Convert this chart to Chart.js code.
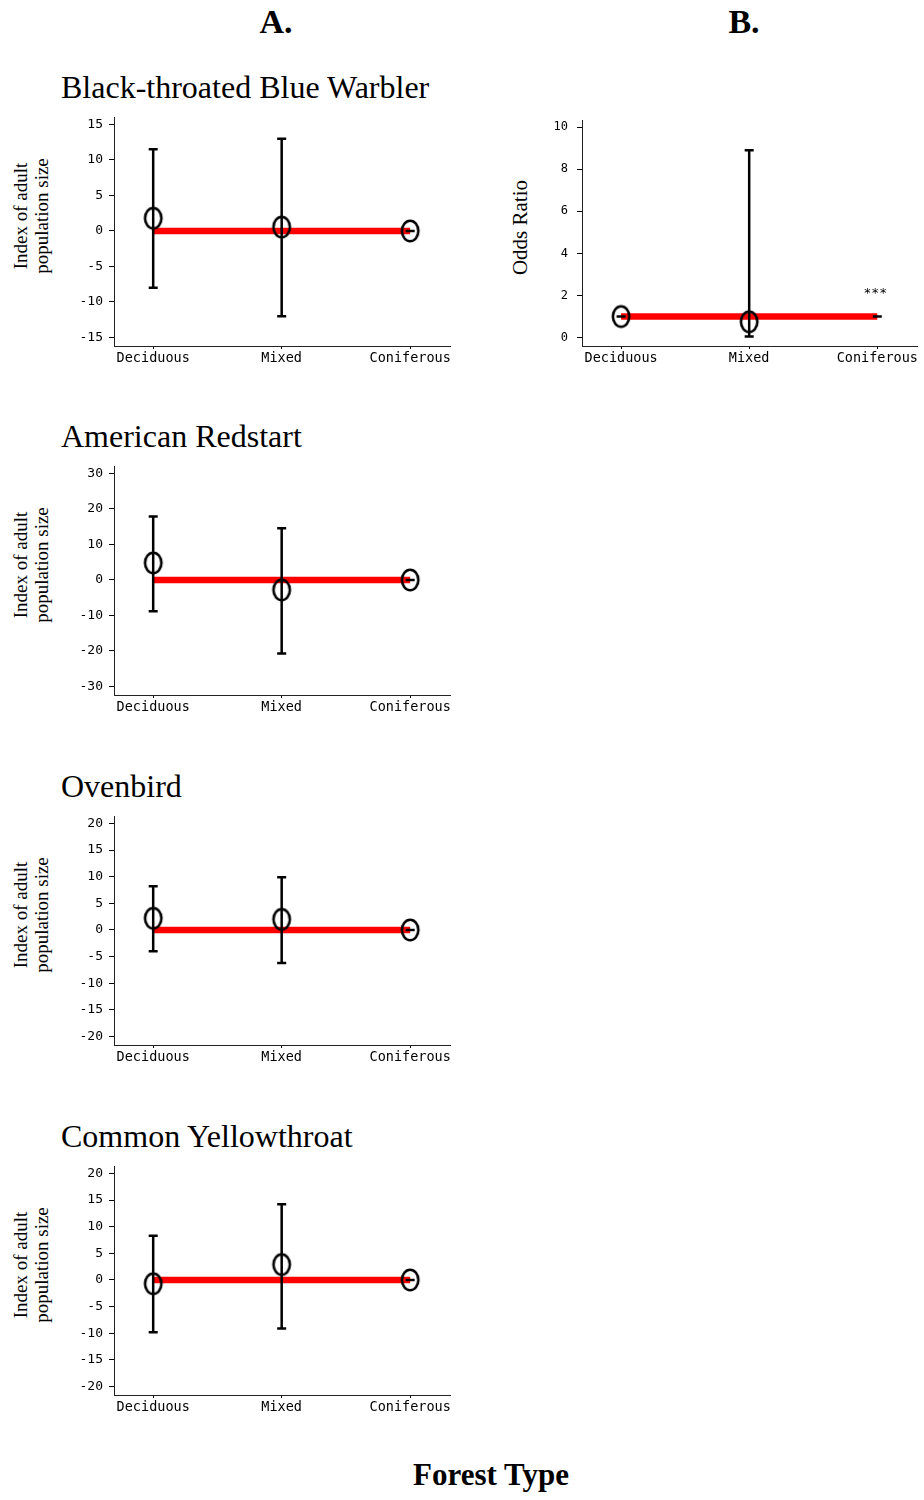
<!DOCTYPE html>
<html>
<head>
<meta charset="utf-8">
<script src="https://cdn.jsdelivr.net/npm/chart.js@4.4.1/dist/chart.umd.min.js"></script>
<style>
html,body{margin:0;padding:0;background:#fff;}
#page{position:relative;width:924px;height:1500px;overflow:hidden;background:#fff;}
canvas{position:absolute;}
.t{position:absolute;font-family:"Liberation Serif","Times New Roman",serif;color:#000;line-height:1;white-space:nowrap;}
.hdr{font-size:34px;font-weight:bold;width:100px;text-align:center;top:4.5px;}
.sp{font-size:32px;left:61px;}
.yt{font-size:19px;line-height:21px;width:200px;height:42px;text-align:center;transform:rotate(-90deg);transform-origin:50% 50%;}
.yo{font-size:21px;line-height:23px;width:200px;height:23px;text-align:center;transform:rotate(-90deg);transform-origin:50% 50%;}
</style>
</head>
<body>
<div id="page">
  <div class="t hdr" style="left:226px;">A.</div>
  <div class="t hdr" style="left:694px;">B.</div>

  <div class="t sp" style="top:70.5px;">Black-throated Blue Warbler</div>
  <div class="t sp" style="top:420px;">American Redstart</div>
  <div class="t sp" style="top:770px;">Ovenbird</div>
  <div class="t sp" style="top:1119.5px;">Common Yellowthroat</div>

  <div class="t yt" style="left:-69.5px;top:194.5px;">Index of adult<br>population size</div>
  <div class="t yt" style="left:-69.5px;top:544px;">Index of adult<br>population size</div>
  <div class="t yt" style="left:-69.5px;top:894px;">Index of adult<br>population size</div>
  <div class="t yt" style="left:-69.5px;top:1243.5px;">Index of adult<br>population size</div>

  <div class="t yo" style="left:420px;top:215.5px;">Odds Ratio</div>

  <div class="t" style="font-size:31px;font-weight:bold;left:341px;width:300px;text-align:center;top:1459px;">Forest Type</div>

  <canvas id="a1" width="410" height="272" style="left:50px;top:104px;"></canvas>
  <canvas id="a2" width="410" height="272" style="left:50px;top:453px;"></canvas>
  <canvas id="a3" width="410" height="272" style="left:50px;top:803px;"></canvas>
  <canvas id="a4" width="410" height="272" style="left:50px;top:1153px;"></canvas>
  <canvas id="b1" width="394" height="272" style="left:530px;top:104px;"></canvas>
</div>
<script>
// ---------- DATA ----------
const categories = ['Deciduous', 'Mixed', 'Coniferous'];

// A. Index of adult population size (mean and interval ends)
const btbwMean  = [1.8, 0.55, 0];
const btbwLower = [-8.0, -12.0, 0];
const btbwUpper = [11.5, 13.0, 0];
const btbwTicks = [-15, -10, -5, 0, 5, 10, 15];

const amreMean  = [4.8, -2.8, 0];
const amreLower = [-8.8, -20.7, 0];
const amreUpper = [17.9, 14.6, 0];
const amreTicks = [-30, -20, -10, 0, 10, 20, 30];

const ovenMean  = [2.2, 2.0, 0];
const ovenLower = [-4.0, -6.2, 0];
const ovenUpper = [8.2, 9.9, 0];
const ovenTicks = [-20, -15, -10, -5, 0, 5, 10, 15, 20];

const coyeMean  = [-0.7, 2.9, 0];
const coyeLower = [-9.8, -9.1, 0];
const coyeUpper = [8.3, 14.2, 0];
const coyeTicks = [-20, -15, -10, -5, 0, 5, 10, 15, 20];

const adultReference = 0;

// B. Odds ratio (Coniferous is the reference level: no estimate marker)
const oddsMean  = [1.0, 0.75, null];
const oddsLower = [1.0, 0.05, 1.0];
const oddsUpper = [1.0, 8.9, 1.0];
const oddsSignif = ['', '', '***'];
const oddsTicks = [0, 2, 4, 6, 8, 10];
const oddsReference = 1;

// ---------- DRAWING ----------
function ellipseMarker() {
  const c = document.createElement('canvas');
  c.width = 24; c.height = 28;
  const g = c.getContext('2d');
  g.lineWidth = 2.6;
  g.strokeStyle = '#000';
  g.beginPath();
  g.ellipse(12, 14, 8.2, 10.2, 0, 0, Math.PI * 2);
  g.stroke();
  return c;
}
const marker = ellipseMarker();

function errorBarPlugin(lower, upper, signif) {
  return {
    id: 'errorBars',
    afterDatasetsDraw(chart) {
      const ctx = chart.ctx, x = chart.scales.x, y = chart.scales.y;
      ctx.save();
      ctx.strokeStyle = '#000';
      ctx.lineWidth = 2.5;
      ctx.lineCap = 'butt';
      const hw = 4.5;
      lower.forEach((lo, i) => {
        const hi = upper[i];
        const px = x.getPixelForValue(i);
        const pl = y.getPixelForValue(lo);
        const pu = y.getPixelForValue(hi);
        ctx.beginPath();
        if (Math.abs(pl - pu) > 0.5) {
          ctx.moveTo(px, pl); ctx.lineTo(px, pu);
        }
        ctx.moveTo(px - hw, pl); ctx.lineTo(px + hw, pl);
        ctx.moveTo(px - hw, pu); ctx.lineTo(px + hw, pu);
        ctx.stroke();
      });
      if (signif) {
        ctx.fillStyle = '#000';
        ctx.font = '13px "DejaVu Sans Mono", monospace';
        ctx.textAlign = 'center';
        ctx.textBaseline = 'middle';
        signif.forEach((s, i) => {
          if (!s) return;
          ctx.fillText(s, x.getPixelForValue(i) - 2, y.getPixelForValue(upper[i]) - 23);
        });
      }
      ctx.restore();
    }
  };
}

function makePanel(id, mean, lower, upper, ticks, yMin, yMax, ref, cfg) {
  const n = categories.length;
  new Chart(document.getElementById(id), {
    type: 'scatter',
    data: {
      datasets: [
        {
          label: 'means',
          data: mean.map((v, i) => ({ x: i, y: v })),
          pointStyle: marker,
          pointRadius: 6,
          pointHoverRadius: 6,
          showLine: false,
          order: 1
        },
        {
          label: 'reference',
          data: [{ x: 0, y: ref }, { x: n - 1, y: ref }],
          showLine: true,
          borderColor: '#ff0000',
          borderWidth: 6.5,
          borderCapStyle: 'butt',
          pointRadius: 0,
          pointHoverRadius: 0,
          order: 2
        }
      ]
    },
    options: {
      responsive: false,
      maintainAspectRatio: false,
      devicePixelRatio: 1,
      animation: false,
      events: [],
      layout: { padding: { top: 10, right: cfg.padRight, bottom: 0, left: 0 } },
      plugins: { legend: { display: false }, tooltip: { enabled: false }, title: { display: false } },
      scales: {
        x: {
          type: 'linear',
          min: -0.305,
          max: n - 1 + 0.31,
          afterBuildTicks(s) { s.ticks = categories.map((c, i) => ({ value: i })); },
          afterFit(s) { s.height = 30; },
          ticks: {
            callback: (v) => categories[v],
            color: '#000',
            font: { family: '"DejaVu Sans Mono", monospace', size: 13.5 },
            padding: 1,
            maxRotation: 0,
            autoSkip: false
          },
          grid: { display: true, drawOnChartArea: false, drawTicks: true, tickLength: 3, color: '#000', lineWidth: 1 },
          border: { display: true, color: '#222', width: 1 }
        },
        y: {
          type: 'linear',
          min: yMin,
          max: yMax,
          afterBuildTicks(s) { s.ticks = ticks.map(v => ({ value: v })); },
          afterFit(s) { s.width = cfg.yWidth; },
          ticks: {
            color: '#000',
            font: { family: '"DejaVu Sans Mono", monospace', size: cfg.tickFontY },
            padding: cfg.tickPad,
            autoSkip: false
          },
          grid: { display: true, drawOnChartArea: false, drawTicks: true, tickLength: 5, color: '#000', lineWidth: 1 },
          border: { display: true, color: '#222', width: 1 }
        }
      }
    },
    plugins: [errorBarPlugin(lower, upper, cfg.signif)]
  });
}

const cfgA = { padRight: 10, yWidth: 64, tickFontY: 13, tickPad: 6 };
makePanel('a1', btbwMean, btbwLower, btbwUpper, btbwTicks, -16.2, 15.94, adultReference, cfgA);
makePanel('a2', amreMean, amreLower, amreUpper, amreTicks, -32.4, 31.88, adultReference, cfgA);
makePanel('a3', ovenMean, ovenLower, ovenUpper, ovenTicks, -21.6, 21.25, adultReference, cfgA);
makePanel('a4', coyeMean, coyeLower, coyeUpper, coyeTicks, -21.6, 21.25, adultReference, cfgA);
makePanel('b1', oddsMean, oddsLower, oddsUpper, oddsTicks, -0.4, 10.33, oddsReference,
  { padRight: 7, yWidth: 52, tickFontY: 12, tickPad: 9, signif: oddsSignif });
</script>
</body>
</html>
